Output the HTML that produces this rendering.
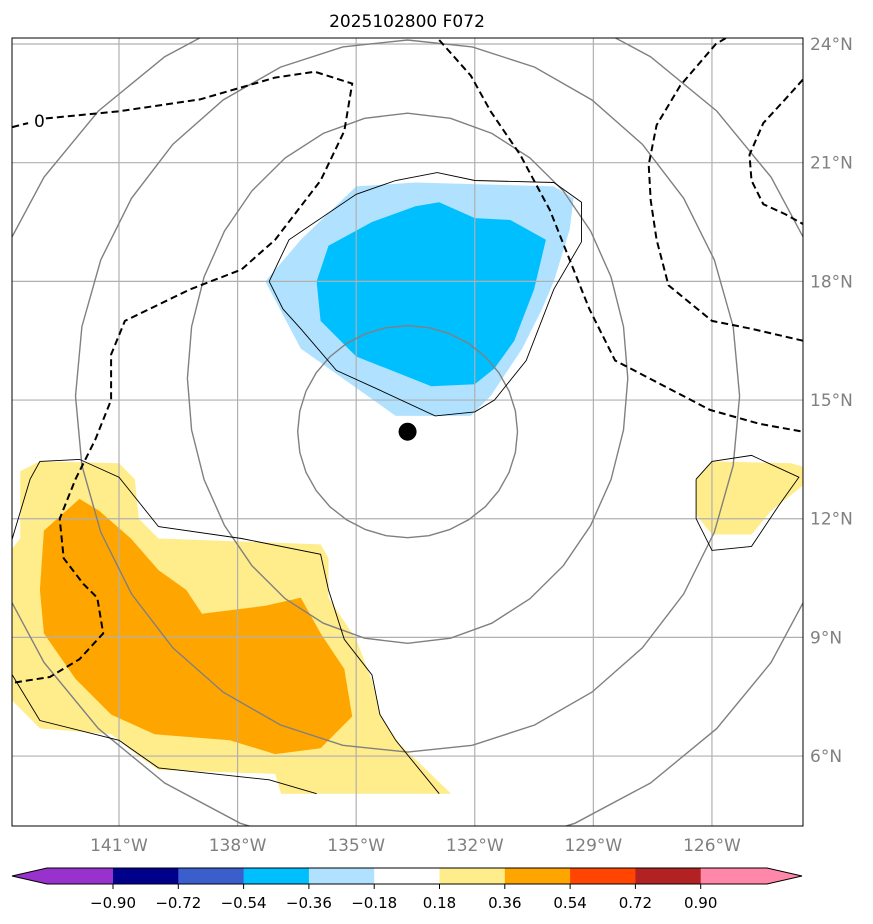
<!DOCTYPE html>
<html><head><meta charset="utf-8"><style>
body{margin:0;background:#fff;}
svg{display:block;font-family:"DejaVu Sans","Liberation Sans",sans-serif;}
</style></head><body>
<svg id="chart" width="873" height="924">
<defs><clipPath id="mapclip"><rect x="12" y="38" width="791" height="788"/></clipPath></defs>
<text x="407" y="27" text-anchor="middle" font-size="17">2025102800 F072</text>
<g id="map" clip-path="url(#mapclip)"></g>
<rect x="12" y="38" width="791" height="788" fill="none" stroke="#000" stroke-width="1"/>
<g id="axes"></g>
<g id="cbar"></g>
</svg>
<script>
const lonTicks=[-141,-138,-135,-132,-129,-126];
const latTicks=[6,9,12,15,18,21,24];
const lonLabels=["141°W","138°W","135°W","132°W","129°W","126°W"];
const latLabels=["6°N","9°N","12°N","15°N","18°N","21°N","24°N"];
const cbarLevels=[-0.90,-0.72,-0.54,-0.36,-0.18,0.18,0.36,0.54,0.72,0.90];
const cbarLabels=["−0.90","−0.72","−0.54","−0.36","−0.18","0.18","0.36","0.54","0.72","0.90"];
const cbarColors=["#9932cc","#00008b","#3a5fcd","#00bfff","#b0e2ff","#ffffff","#ffec8b","#ffa500","#ff4500","#b22222","#ff88aa"];
const lightBlue=[[-137.3,18.0],[-136.4,19.05],[-135.0,20.4],[-133.5,20.5],[-130.0,20.4],[-129.5,20.1],[-129.6,19.3],[-130.0,18.0],[-130.3,17.3],[-130.8,16.3],[-131.6,15.1],[-132.1,14.6],[-134.0,14.6],[-136.4,16.3]];
const deepBlue=[[-136.0,18.0],[-135.7,18.9],[-134.6,19.5],[-133.5,19.9],[-132.9,20.0],[-132.0,19.6],[-131.1,19.55],[-130.2,19.05],[-130.5,17.8],[-131.0,16.5],[-131.5,15.8],[-132.0,15.4],[-133.1,15.35],[-135.0,16.1],[-135.9,17.0]];
const yellowSW=[[-143.5,13.2],[-143.0,13.45],[-141.0,13.4],[-140.6,13.0],[-140.5,12.0],[-140.0,11.5],[-135.9,11.35],[-135.7,11.0],[-135.7,10.0],[-135.0,8.95],[-134.6,7.9],[-134.4,7.05],[-133.9,6.3],[-132.6,5.05],[-136.9,5.05],[-137.05,5.55],[-140.0,5.65],[-140.5,6.0],[-141.2,6.55],[-143.0,6.7],[-143.9,7.6],[-143.9,11.0],[-143.5,11.5]];
const orangeSW=[[-142.9,11.7],[-142.0,12.5],[-141.5,12.2],[-140.7,11.5],[-140.0,10.7],[-139.3,10.2],[-138.9,9.6],[-137.3,9.8],[-136.4,10.0],[-135.9,9.1],[-135.3,8.2],[-135.1,7.0],[-135.9,6.2],[-137.05,6.05],[-138.2,6.4],[-140.1,6.55],[-141.2,7.05],[-142.1,7.95],[-142.9,9.1],[-143.0,10.2]];
const yellowE=[[-126.4,13.0],[-126.0,13.45],[-124.0,13.4],[-123.5,13.25],[-123.5,13.0],[-124.5,12.2],[-125.0,11.6],[-126.0,11.6],[-126.4,12.1]];
const blackBlue=[[-137.2,18.0],[-136.7,19.05],[-135.0,20.2],[-134.0,20.55],[-132.95,20.75],[-132.0,20.55],[-130.0,20.5],[-129.3,20.0],[-129.3,19.0],[-130.0,17.8],[-130.7,16.0],[-131.5,15.0],[-132.0,14.7],[-133.0,14.6],[-134.4,15.25],[-135.5,15.75],[-136.4,16.8],[-136.85,17.3],[-137.2,18.0]];
const blackSWa=[[-143.9,11.9],[-143.7,11.5],[-143.25,13.0],[-143.0,13.45],[-142.0,13.5],[-141.0,13.05],[-140.0,11.8],[-137.9,11.5],[-135.9,11.1],[-135.7,10.2],[-135.3,8.95],[-134.6,8.05],[-134.4,7.05],[-134.0,6.4],[-132.9,5.05]];
const blackSWb=[[-143.9,8.4],[-143.7,8.05],[-143.0,6.9],[-141.0,6.4],[-140.0,5.7],[-137.2,5.4],[-136.0,5.05]];
const blackE=[[-126.4,13.0],[-126.0,13.45],[-125.0,13.6],[-123.8,13.05],[-124.3,12.35],[-125.0,11.3],[-126.0,11.2],[-126.4,12.0],[-126.4,13.0]];
const dashA1=[[-143.7,21.9],[-143.3,22.0]];
const dashA2=[[-142.85,22.12],[-141.0,22.3],[-138.95,22.6],[-137.05,23.15],[-136.05,23.3],[-135.1,23.0],[-135.3,21.8],[-135.9,20.55],[-137.05,19.05],[-137.9,18.3],[-139.2,17.8],[-140.85,17.0],[-141.2,16.15],[-141.2,15.0],[-141.6,14.0],[-142.1,13.0],[-142.5,12.0],[-142.4,11.0],[-141.9,10.35],[-141.55,10.0],[-141.4,9.1],[-142.0,8.45],[-142.75,8.0],[-143.7,7.85]];
const dashB=[[-132.9,24.1],[-132.1,23.2],[-131.6,22.3],[-130.85,21.2],[-130.1,19.8],[-129.6,18.55],[-129.1,17.3],[-128.45,16.0],[-127.3,15.4],[-126.05,14.75],[-124.8,14.4],[-123.7,14.2]];
const dashC=[[-125.65,24.15],[-125.9,24.0],[-126.8,22.95],[-127.4,21.95],[-127.6,20.95],[-127.55,20.05],[-127.4,19.05],[-127.1,17.9],[-126.0,17.0],[-125.0,16.8],[-123.7,16.5]];
const dashD=[[-123.7,23.1],[-124.15,22.6],[-124.7,22.0],[-125.05,21.2],[-125.0,20.55],[-124.7,19.95],[-124.15,19.7],[-123.7,19.45]];
// gray rings: [centerLon, centerLat] and [radiusLon, radiusLat]
const ringCenters=[[-133.7,14.2],[-133.7,15.55],[-133.7,15.1],[-133.7,14.5]];
const ringRadii=[[2.78,2.68],[5.57,6.7],[8.4,9.0],[11.06,11.04]];
const stormCenter=[-133.7,14.2];

const NS='http://www.w3.org/2000/svg';
const X=lon=>119+(lon+141)*39.53;
const Y=lat=>44+(24-lat)*39.56;
function mk(tag,attrs,parent){const e=document.createElementNS(NS,tag);for(const k in attrs)e.setAttribute(k,attrs[k]);parent.appendChild(e);return e;}
const map=document.getElementById('map');
const pts=a=>a.map(p=>X(p[0]).toFixed(1)+','+Y(p[1]).toFixed(1)).join(' ');
function poly(a,fill,name){const e=mk('polygon',{points:pts(a),fill:fill,stroke:'none'},map);

}
function line(a,stroke,w,dash,name){const e=mk('polyline',{points:pts(a),fill:'none',stroke:stroke,'stroke-width':w},map);if(dash)e.setAttribute('stroke-dasharray',dash);

}
poly(yellowSW,'#ffec8b','shade-positive-sw');
poly(orangeSW,'#ffa500','shade-strong-positive-sw');
poly(yellowE,'#ffec8b','shade-positive-east');
poly(lightBlue,'#b0e2ff','shade-negative');
poly(deepBlue,'#00bfff','shade-strong-negative');
lonTicks.forEach(l=>{const e=mk('line',{x1:X(l),x2:X(l),y1:38,y2:826,stroke:'#b0b0b0','stroke-width':1.2},map);

});
latTicks.forEach(l=>{const e=mk('line',{x1:12,x2:803,y1:Y(l),y2:Y(l),stroke:'#b0b0b0','stroke-width':1.2},map);

});
ringCenters.forEach((c,i)=>{const r=ringRadii[i];const a=[];for(let k=0;k<=32;k++){const t=k/32*2*Math.PI;a.push([c[0]+r[0]*Math.cos(t),c[1]+r[1]*Math.sin(t)]);}
line(a,'#808080',1.4,null,'gray-contour-ring');});
line(blackBlue,'#000',0.9,null,'thin-contour-blue');
line(blackSWa,'#000',0.9,null,'thin-contour-sw');
line(blackSWb,'#000',0.9,null,'thin-contour-sw-lower');
line(blackE,'#000',0.9,null,'thin-contour-east');
[dashA1,dashA2,dashB,dashC,dashD].forEach(d=>line(d,'#000',2,'7,4','dashed-contour'));
const lbl=mk('text',{x:X(-143.0)-6,y:Y(22.05)+6,'font-size':17},map);lbl.textContent='0';


const dot=mk('circle',{cx:X(stormCenter[0]),cy:Y(stormCenter[1]),r:9,fill:'#000'},map);


const ax=document.getElementById('axes');
lonTicks.forEach((l,i)=>{const t=mk('text',{x:X(l),y:851,'text-anchor':'middle','font-size':17,fill:'#808080'},ax);t.textContent=lonLabels[i];

});
latTicks.forEach((l,i)=>{const t=mk('text',{x:810,y:Y(l)+6,'font-size':17,fill:'#808080'},ax);t.textContent=latLabels[i];

});
const cb=document.getElementById('cbar');
const edges=[47];cbarLevels.forEach((v,i)=>edges.push(113+i*65.3));edges.push(767);
const y0=868,y1=884,ym=876;
const tl=mk('polygon',{points:`12,${ym} 47,${y0} 113,${y0} 113,${y1} 47,${y1}`,fill:cbarColors[0]},cb);


for(let i=1;i<cbarColors.length-1;i++){const r=mk('rect',{x:edges[i],y:y0,width:edges[i+1]-edges[i]+0.5,height:y1-y0,fill:cbarColors[i]},cb);

}
const tr=mk('polygon',{points:`${edges[10]},${y0} 767,${y0} 802,${ym} 767,${y1} ${edges[10]},${y1}`,fill:cbarColors[10]},cb);


mk('polygon',{points:`12,${ym} 47,${y0} 767,${y0} 802,${ym} 767,${y1} 47,${y1}`,fill:'none',stroke:'#000','stroke-width':1},cb);
cbarLevels.forEach((v,i)=>{const x=edges[i+1];mk('line',{x1:x,x2:x,y1:y1,y2:y1+5,stroke:'#000'},cb);
const t=mk('text',{x:x,y:908,'text-anchor':'middle','font-size':15},cb);t.textContent=cbarLabels[i];

});
</script>
</body></html>
